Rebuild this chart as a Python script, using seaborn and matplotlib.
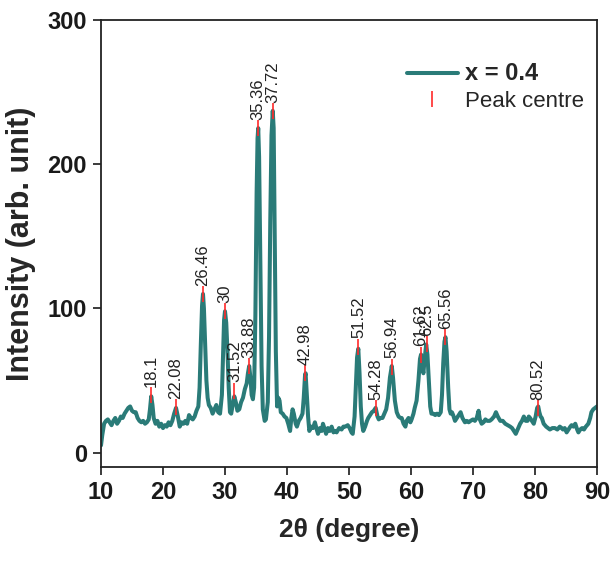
import numpy as np
import pandas as pd
import matplotlib
matplotlib.use("Agg")
import matplotlib.pyplot as plt
import seaborn as sns

# ---- data ----
two_theta = [10.0, 10.2, 10.5, 10.8, 11.1, 11.4, 11.7, 12.0, 12.3, 12.6, 12.9, 13.2, 13.5, 13.8, 14.1,
             14.4, 14.7, 15.0, 15.3, 15.6, 15.9, 16.2, 16.5, 16.8, 17.1, 17.4, 17.7, 17.9, 18.1, 18.3,
             18.5, 18.8, 19.1, 19.4, 19.7, 20.0, 20.3, 20.6, 20.9, 21.2, 21.5, 21.8, 22.1, 22.4, 22.7,
             23.0, 23.3, 23.6, 23.9, 24.2, 24.5, 24.8, 25.1, 25.4, 25.7, 25.9, 26.1, 26.3, 26.45, 26.6,
             26.8, 27.0, 27.2, 27.4, 27.7, 28.0, 28.3, 28.6, 28.9, 29.2, 29.5, 29.7, 29.85, 30.0, 30.2,
             30.4, 30.6, 30.8, 31.0, 31.2, 31.5, 31.8, 32.0, 32.3, 32.6, 32.9, 33.2, 33.5, 33.7, 33.9,
             34.1, 34.3, 34.5, 34.7, 34.9, 35.1, 35.25, 35.36, 35.5, 35.7, 35.9, 36.1, 36.4, 36.6, 36.9,
             37.1, 37.3, 37.5, 37.7, 37.85, 38.0, 38.2, 38.4, 38.6, 38.8, 39.0, 39.3, 39.6, 39.9, 40.2,
             40.5, 40.7, 40.9, 41.1, 41.4, 41.6, 41.9, 42.2, 42.5, 42.7, 42.9, 43.0, 43.2, 43.4, 43.6,
             43.9, 44.2, 44.5, 44.8, 45.0, 45.3, 45.6, 45.8, 46.1, 46.3, 46.6, 46.9, 47.2, 47.5, 47.8,
             48.0, 48.4, 48.8, 49.1, 49.4, 49.8, 50.1, 50.4, 50.6, 50.9, 51.1, 51.3, 51.5, 51.7, 51.9,
             52.1, 52.3, 52.6, 52.9, 53.1, 53.4, 53.7, 54.0, 54.3, 54.6, 54.8, 55.1, 55.4, 55.7, 56.0,
             56.3, 56.6, 56.9, 57.1, 57.4, 57.7, 58.0, 58.3, 58.5, 58.8, 59.1, 59.3, 59.6, 59.9, 60.1,
             60.4, 60.6, 60.9, 61.2, 61.45, 61.62, 61.8, 62.0, 62.2, 62.45, 62.65, 62.9, 63.1, 63.3, 63.6,
             63.9, 64.2, 64.5, 64.8, 65.0, 65.2, 65.4, 65.56, 65.75, 66.0, 66.2, 66.4, 66.6, 66.8, 67.1,
             67.4, 67.7, 68.0, 68.3, 68.7, 69.0, 69.3, 69.6, 70.0, 70.3, 70.6, 70.9, 71.1, 71.4, 71.7,
             72.0, 72.3, 72.7, 73.0, 73.4, 73.7, 74.0, 74.4, 74.8, 75.2, 75.6, 76.0, 76.3, 76.6, 76.9,
             77.2, 77.6, 77.9, 78.2, 78.5, 78.8, 79.0, 79.2, 79.5, 79.8, 80.1, 80.35, 80.52, 80.7, 80.9,
             81.1, 81.4, 81.8, 82.1, 82.4, 82.8, 83.2, 83.6, 84.0, 84.3, 84.5, 84.8, 85.1, 85.4, 85.7,
             85.9, 86.2, 86.5, 86.8, 87.0, 87.3, 87.6, 87.9, 88.2, 88.6, 88.9, 89.1, 89.4, 89.7, 90.0]

intensity = [5, 12, 20, 22, 23, 21, 19, 22, 24, 20, 22, 25, 24, 27, 29,
             31, 32, 29, 28, 28, 24, 22, 21, 22, 20, 21, 23, 30, 39, 33,
             24, 20, 22, 18, 20, 17, 19, 18, 21, 19, 22, 27, 31, 25, 18,
             21, 20, 22, 20, 26, 24, 23, 25, 29, 32, 45, 75, 102, 110, 100,
             75, 50, 38, 33, 31, 27, 30, 33, 28, 27, 40, 70, 92, 98, 90,
             70, 45, 28, 27, 32, 39, 34, 29, 30, 35, 38, 44, 48, 55, 60,
             52, 40, 37, 45, 95, 180, 218, 225, 205, 130, 60, 30, 22, 23, 35,
             80, 160, 220, 237, 225, 160, 70, 32, 38, 36, 28, 27, 25, 24, 20,
             15, 24, 30, 27, 20, 18, 22, 24, 27, 38, 53, 55, 40, 25, 15,
             18, 17, 21, 16, 13, 17, 15, 20, 16, 13, 17, 15, 18, 14, 15,
             14, 17, 16, 18, 18, 19, 17, 14, 13, 25, 45, 66, 72, 55, 32,
             20, 15, 18, 22, 24, 26, 28, 29, 31, 25, 23, 24, 24, 27, 30,
             38, 52, 60, 52, 36, 28, 25, 24, 24, 20, 18, 22, 24, 21, 23,
             27, 31, 36, 50, 65, 68, 60, 55, 65, 75, 68, 48, 32, 27, 27,
             26, 27, 26, 28, 40, 62, 77, 80, 70, 45, 30, 27, 28, 26, 22,
             24, 26, 28, 24, 21, 22, 21, 22, 23, 22, 24, 29, 23, 20, 21,
             23, 22, 22, 23, 25, 28, 25, 22, 22, 20, 19, 18, 17, 15, 13,
             16, 20, 22, 25, 22, 22, 25, 24, 22, 20, 25, 31, 32, 28, 25,
             24, 20, 18, 17, 16, 17, 17, 16, 18, 17, 16, 17, 14, 16, 18,
             19, 18, 20, 16, 14, 16, 17, 16, 18, 20, 24, 28, 30, 31, 32]

peak_centre = [18.1, 22.08, 26.46, 30, 31.52, 33.88, 35.36, 37.72, 42.98, 51.52,
               54.28, 56.94, 61.62, 62.5, 65.56, 80.52]
peak_height = [40, 31.5, 110, 98, 43, 60, 225, 237, 55, 73.5,
               31, 59.6, 68, 75, 80, 31]

x_ticks = [10, 20, 30, 40, 50, 60, 70, 80, 90]
y_ticks = [0, 100, 200, 300]

series_label = "x = 0.4"
peak_label = "Peak centre"

# ---- styling ----
sns.set_style("ticks")
plt.rcParams['font.family'] = ['Liberation Sans', 'DejaVu Sans']

line_color = "#2a7b78"

fig = plt.figure(figsize=(6.11, 5.62), dpi=100)
ax = fig.add_axes([101/611, 1-467/562, (597-101)/611, (467-20)/562])

df = pd.DataFrame({"two_theta": two_theta, "intensity": intensity})
sns.lineplot(data=df, x="two_theta", y="intensity", ax=ax, color=line_color,
             linewidth=2.9, label=series_label, sort=False)

ax.plot(peak_centre, peak_height, linestyle="none", marker="|", color="#ff2a2a",
        markersize=11, markeredgewidth=1.2, label=peak_label, zorder=3)

for px, py in zip(peak_centre, peak_height):
    ax.annotate(f"{px:g}", xy=(px, py), xytext=(0, 6), textcoords="offset points",
                rotation=90, ha="center", va="bottom", fontsize=12, color="#222222")

ax.set_xlim(10, 90)
ax.set_ylim(-10, 300)
ax.set_xticks(x_ticks)
ax.set_yticks(y_ticks)
ax.tick_params(axis="both", direction="out", length=6, width=1.2, labelsize=17,
               colors="#1a1a1a", pad=4)
for lab in ax.get_xticklabels() + ax.get_yticklabels():
    lab.set_fontweight("bold")
for sp in ax.spines.values():
    sp.set_linewidth(1.3)
    sp.set_color("#222222")
    sp.set_visible(True)

ax.set_xlabel("2θ (degree)", fontsize=19, fontweight="bold", labelpad=10)
ax.set_ylabel("Intensity (arb. unit)", fontsize=22, fontweight="bold", labelpad=8)

leg = ax.legend(loc="upper right", bbox_to_anchor=(1.0, 0.935), frameon=False,
                fontsize=16, handlelength=2.3, handletextpad=0.3, labelspacing=0.25,
                borderaxespad=0.2)
leg.get_texts()[0].set_fontweight("bold")
leg.get_texts()[0].set_fontsize(17)

fig.savefig("out.png", dpi=100)
